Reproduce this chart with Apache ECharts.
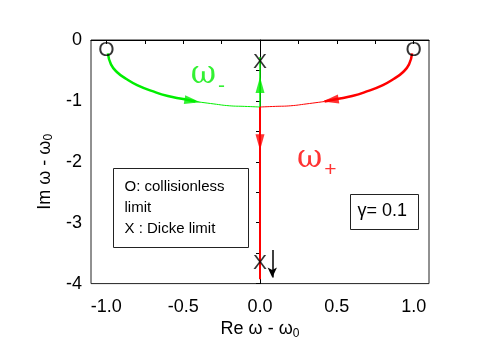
<!DOCTYPE html>
<html>
<head>
<meta charset="utf-8">
<script src="https://cdn.jsdelivr.net/npm/echarts@6/dist/echarts.min.js"></script>
<style>
  html, body { margin: 0; padding: 0; background: #fff; }
  #chart { width: 498px; height: 345px; }
</style>
</head>
<body>
<div id="chart"></div>
<script>
// omega- branch: collisionless limit (-1) towards the meeting point, then up
const greenArcOuter = [[-0.99, -0.22], [-0.97, -0.40], [-0.93, -0.53], [-0.87, -0.64], [-0.80, -0.74], [-0.70, -0.84], [-0.60, -0.92], [-0.50, -0.97], [-0.42, -1.01]]
const greenArcInner = [[-0.42, -1.01], [-0.30, -1.05], [-0.20, -1.08], [-0.10, -1.09], [0, -1.10]]
const greenStem = [[0, -1.10], [0, -0.28]]
// omega+ branch: collisionless limit (+1) towards the meeting point, then down
const redArcOuter = [[0.99, -0.22], [0.97, -0.40], [0.93, -0.53], [0.87, -0.64], [0.80, -0.74], [0.70, -0.84], [0.60, -0.92], [0.50, -0.97], [0.42, -1.01]]
const redArcInner = [[0.42, -1.01], [0.30, -1.05], [0.20, -1.08], [0.10, -1.09], [0, -1.10]]
const redStem = [[0, -1.10], [0, -3.93]]

// direction arrows: [x, y, rotation]
const greenArrows = [[-0.44, -1.0, -99], [0, -0.74, 0]]
const redArrows = [[0.46, -0.99, 99], [0, -1.68, 180]]

const collisionlessMarks = [[-1, -0.17], [1, -0.17]]
const dickeMarks = [[0, -0.36], [0, -3.66]]
const dickeArrow = [[0.08, -3.45], [0.08, -3.9]]

const xLabels = [-1, -0.5, 0, 0.5, 1]
const xTicks = [-1, -0.75, -0.5, -0.25, 0, 0.25, 0.5, 0.75, 1]
const yTicks = [-4, -3.5, -3, -2.5, -2, -1.5, -1, -0.5, 0]

const GREEN = '#00ee00'
const RED = '#ff0000'
const FONT = 'Liberation Sans, Arial, sans-serif'

const chart = echarts.init(document.getElementById('chart'))

const lineSeries = (data, color, width) => ({
  type: 'line',
  data,
  smooth: true,
  showSymbol: false,
  lineStyle: { color, width },
  silent: true,
  z: 3
})

const arrowSeries = (arrows, color) => ({
  type: 'scatter',
  data: arrows.map(a => ({ value: [a[0], a[1]], symbolRotate: a[2] })),
  symbol: 'triangle',
  symbolSize: [9, 16],
  itemStyle: { color },
  silent: true,
  z: 4
})

const markSeries = (data, text) => ({
  type: 'scatter',
  data,
  symbolSize: 1,
  itemStyle: { color: 'transparent' },
  label: {
    show: true,
    position: 'inside',
    formatter: text,
    color: '#000',
    fontSize: 21,
    fontFamily: FONT
  },
  silent: true,
  z: 5
})

const omegaSeries = (pos, sub, color) => ({
  type: 'scatter',
  data: [pos],
  symbolSize: 1,
  itemStyle: { color: 'transparent' },
  label: {
    show: true,
    position: 'inside',
    formatter: '{w|ω}{s|' + sub + '}',
    rich: {
      w: { fontSize: 31, color, fontFamily: 'DejaVu Serif, serif' },
      s: { fontSize: 21, color, fontFamily: FONT, padding: [22, 0, 0, 2] }
    }
  },
  silent: true
})

const nameRich = {
  a: { fontSize: 18, color: '#000', fontFamily: FONT },
  s: { fontSize: 12, color: '#000', fontFamily: FONT, padding: [9, 0, 0, 0] }
}

chart.setOption({
  animation: false,
  grid: {
    left: 91, right: 69, top: 40, bottom: 57,
    show: true, borderColor: '#222', borderWidth: 1
  },
  xAxis: {
    type: 'value',
    min: -1.1, max: 1.1,
    name: '{a|Re ω - ω}{s|0}',
    nameLocation: 'middle',
    nameGap: 29,
    nameTextStyle: { rich: nameRich },
    axisLine: { lineStyle: { color: '#000' } },
    axisTick: { show: true, length: 4, customValues: xTicks, lineStyle: { color: '#000' } },
    axisLabel: {
      customValues: xLabels,
      formatter: v => v.toFixed(1),
      color: '#000', fontSize: 18, fontFamily: FONT, margin: 14
    },
    splitLine: { show: false }
  },
  yAxis: {
    type: 'value',
    min: -4, max: 0, interval: 1,
    name: '{a|Im ω - ω}{s|0}',
    nameLocation: 'middle',
    nameGap: 28,
    nameTextStyle: { rich: nameRich, padding: [0, 20, 0, 0] },
    axisLine: { show: true, lineStyle: { color: '#000' } },
    axisTick: { show: true, length: 4, customValues: yTicks, lineStyle: { color: '#000' } },
    axisLabel: { color: '#000', fontSize: 18, fontFamily: FONT, margin: 9 },
    splitLine: { show: false }
  },
  series: [
    lineSeries(greenArcOuter, GREEN, 2.5),
    lineSeries(greenArcInner, GREEN, 1),
    lineSeries(greenStem, GREEN, 1.5),
    lineSeries(redArcOuter, RED, 2.5),
    lineSeries(redArcInner, RED, 1),
    lineSeries(redStem, RED, 2),
    arrowSeries(greenArrows, GREEN),
    arrowSeries(redArrows, RED),
    markSeries(collisionlessMarks, 'O'),
    markSeries(dickeMarks, 'X'),
    {
      type: 'line',
      data: [],
      silent: true,
      markLine: {
        silent: true,
        symbol: ['none', 'arrow'],
        symbolSize: [7, 10],
        label: { show: false },
        lineStyle: { color: '#000', width: 1.5, type: 'solid' },
        data: [[{ coord: dickeArrow[0] }, { coord: dickeArrow[1] }]]
      }
    },
    omegaSeries([-0.34, -0.58], '-', GREEN),
    omegaSeries([0.37, -1.95], '+', RED)
  ],
  graphic: [
    {
      type: 'group',
      left: 113, top: 168,
      children: [
        { type: 'rect', shape: { x: 0, y: 0, width: 135, height: 79 }, style: { fill: '#fff', stroke: '#222', lineWidth: 1 } },
        {
          type: 'text', x: 11, y: 8,
          style: {
            text: 'O: collisionless\nlimit\nX : Dicke limit',
            font: '15px ' + FONT, fill: '#000', lineHeight: 21
          }
        }
      ]
    },
    {
      type: 'group',
      left: 350, top: 194,
      children: [
        { type: 'rect', shape: { x: 0, y: 0, width: 68, height: 35 }, style: { fill: '#fff', stroke: '#222', lineWidth: 1 } },
        {
          type: 'text', x: 7, y: 8,
          style: { text: 'γ= 0.1', font: '18px ' + FONT, fill: '#000' }
        }
      ]
    }
  ]
})
</script>
</body>
</html>
